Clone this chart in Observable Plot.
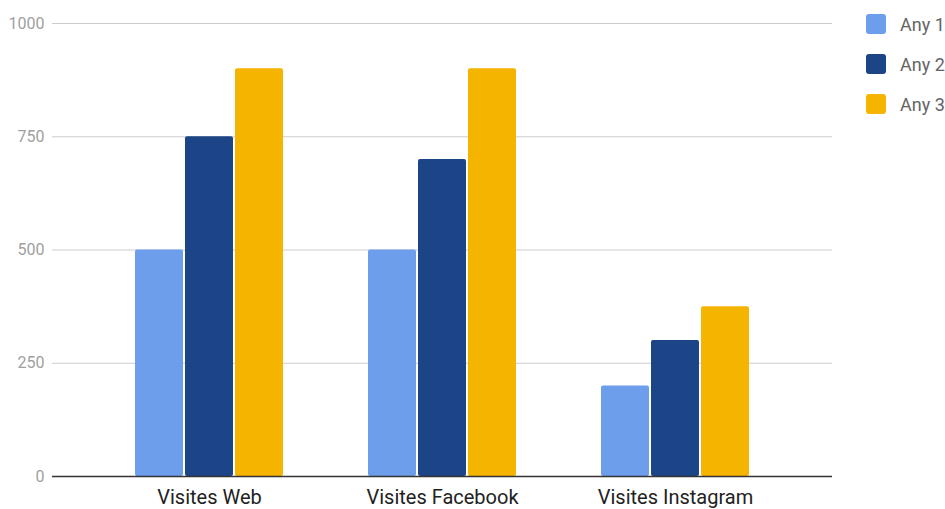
<!DOCTYPE html>
<html>
<head>
<meta charset="utf-8">
<script src="https://cdn.jsdelivr.net/npm/d3@7"></script>
<script src="https://cdn.jsdelivr.net/npm/@observablehq/plot@0.6"></script>
<style>
  html, body { margin: 0; padding: 0; background: #fff; }
  #wrap { position: relative; width: 945px; height: 509px; font-family: Roboto, sans-serif; }
  #legend { position: absolute; left: 866px; top: 14px; }
  .item { display: flex; align-items: center; height: 20px; margin-bottom: 20px; font-size: 18px; color: #646464; white-space: nowrap; }
  .sw { width: 20px; height: 20px; border-radius: 3px; margin-right: 14px; }
</style>
</head>
<body>
<div id="wrap"><div id="legend"></div></div>
<script>
const categories = ["Visites Web", "Visites Facebook", "Visites Instagram"];
const series = ["Any 1", "Any 2", "Any 3"];
const any1 = [500, 500, 200];
const any2 = [750, 700, 300];
const any3 = [900, 900, 375];
const yTicks = [0, 250, 500, 750, 1000];
const colors = ["#6d9eeb", "#1c4587", "#f4b400"];

const values = [any1, any2, any3];
const rows = [];
series.forEach((s, i) => categories.forEach((c, j) => rows.push({category: c, series: s, value: values[i][j]})));

const barW = 48, gap = 2;

const plot = Plot.plot({
  width: 945,
  height: 509,
  marginLeft: 52,
  marginRight: 113,
  marginTop: 23,
  marginBottom: 33,
  style: {fontFamily: "Roboto, sans-serif", background: "#fff"},
  x: {type: "band", domain: categories, paddingInner: 0.365, paddingOuter: 0.356, label: null},
  y: {domain: [0, 1000], label: null},
  color: {domain: series, range: colors},
  marks: [
    Plot.gridY(yTicks.filter(d => d > 0), {stroke: "#cccccc", strokeOpacity: 1, strokeWidth: 1}),
    ...series.map((s, i) => Plot.barY(rows.filter(d => d.series === s), {
      x: "category", y: "value", fill: "series",
      insetLeft: i * (barW + gap), insetRight: (2 - i) * (barW + gap), rx: 2
    })),
    Plot.ruleY([0], {stroke: "#333", strokeWidth: 1.5}),
    Plot.axisY({ticks: yTicks, tickSize: 0, tickPadding: 8, fontSize: 16, color: "#a0a0a0", tickFormat: d => String(d), label: null}),
    Plot.axisX({tickSize: 0, tickPadding: 13, fontSize: 20, color: "#222", label: null})
  ]
});
document.getElementById("wrap").prepend(plot);

const legend = document.getElementById("legend");
series.forEach((s, i) => {
  const item = document.createElement("div");
  item.className = "item";
  const sw = document.createElement("div");
  sw.className = "sw";
  sw.style.background = colors[i];
  const t = document.createElement("span");
  t.textContent = s;
  item.append(sw, t);
  legend.append(item);
});
</script>
</body>
</html>
